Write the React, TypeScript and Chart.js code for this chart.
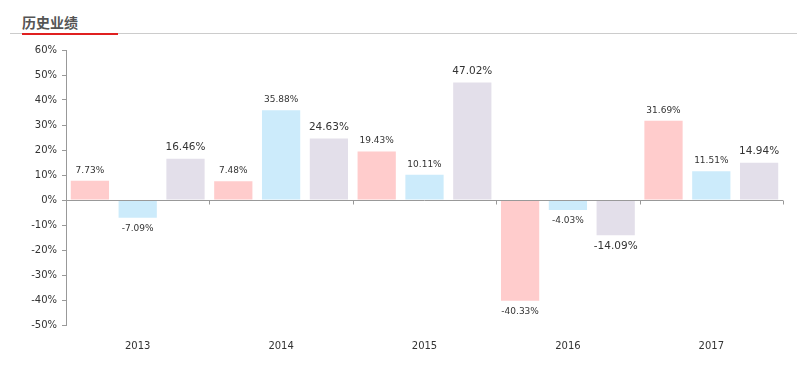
import React, { useEffect, useRef } from "react";
import { Chart, registerables } from "chart.js";

Chart.register(...registerables);

const years = ["2013", "2014", "2015", "2016", "2017"];
const seriesA = [7.73, 7.48, 19.43, -40.33, 31.69];
const seriesB = [-7.09, 35.88, 10.11, -4.03, 11.51];
const seriesC = [16.46, 24.63, 47.02, -14.09, 14.94];
const yTicks = [60, 50, 40, 30, 20, 10, 0, -10, -20, -30, -40, -50];

const zeroLinePlugin = {
  id: "zeroLine",
  afterDatasetsDraw(chart: any) {
    const { ctx, chartArea, scales } = chart;
    const x = scales.x;
    const y = scales.y;
    const y0 = Math.round(y.getPixelForValue(0)) + 0.5;
    ctx.save();
    ctx.strokeStyle = "#999999";
    ctx.lineWidth = 1;
    ctx.beginPath();
    ctx.moveTo(chartArea.left, y0);
    ctx.lineTo(chartArea.right, y0);
    const n = years.length;
    for (let i = 1; i <= n; i++) {
      const px = Math.round(i < n ? x.getPixelForValue(i) - (x.getPixelForValue(1) - x.getPixelForValue(0)) / 2 : chartArea.right) + 0.5;
      ctx.moveTo(px, y0);
      ctx.lineTo(px, y0 + 4);
    }
    ctx.stroke();
    ctx.restore();
  },
};

const labelPlugin = {
  id: "valueLabels",
  afterDatasetsDraw(chart: any) {
    const { ctx } = chart;
    ctx.save();
    ctx.fillStyle = "#333333";
    ctx.textAlign = "center";
    chart.data.datasets.forEach((ds: any, di: number) => {
      const meta = chart.getDatasetMeta(di);
      const size = di === 2 ? 10.5 : 9;
      ctx.font = `${size}px "DejaVu Sans", sans-serif`;
      meta.data.forEach((bar: any, i: number) => {
        const v = ds.data[i];
        const text = v.toFixed(2) + "%";
        if (v >= 0) {
          ctx.textBaseline = "bottom";
          ctx.fillText(text, bar.x, bar.y - 6);
        } else {
          ctx.textBaseline = "top";
          ctx.fillText(text, bar.x, bar.y + 6);
        }
      });
    });
    ctx.restore();
  },
};

export default function App() {
  const ref = useRef<HTMLCanvasElement>(null);
  useEffect(() => {
    if (!ref.current) return;
    const chart = new Chart(ref.current, {
      type: "bar",
      data: {
        labels: years,
        datasets: [
          { label: "A", data: seriesA, backgroundColor: "#FFCCCC" },
          { label: "B", data: seriesB, backgroundColor: "#CCEBFB" },
          { label: "C", data: seriesC, backgroundColor: "#E3DFEA" },
        ],
      },
      options: {
        animation: false,
        responsive: false,
        maintainAspectRatio: false,
        layout: { padding: { left: 0, right: 23, top: 50, bottom: 0 } },
        datasets: { bar: { barPercentage: 0.8, categoryPercentage: 1.0 } },
        plugins: { legend: { display: false }, tooltip: { enabled: false } },
        scales: {
          x: {
            grid: { display: false },
            border: { display: false },
            ticks: { color: "#333333", font: { size: 10, family: "DejaVu Sans" }, padding: 7 },
            afterFit: (s: any) => { s.height = 41; },
          },
          y: {
            min: -50,
            max: 60,
            afterBuildTicks: (s: any) => { s.ticks = yTicks.map((v) => ({ value: v })); },
            grid: { display: true, drawOnChartArea: false, drawTicks: true, tickLength: 4, color: "#999999" },
            border: { display: true, color: "#999999" },
            ticks: {
              color: "#333333",
              font: { size: 10, family: "DejaVu Sans" },
              padding: 5,
              callback: (v: any) => v + "%",
            },
            afterFit: (s: any) => { s.width = 66; },
          },
        },
      },
      plugins: [zeroLinePlugin, labelPlugin],
    });
    return () => chart.destroy();
  }, []);
  return (
    <div style={{ position: "fixed", left: 0, top: 0, width: 806, height: 366, background: "#fff" }}>
      <div style={{ position: "absolute", left: 10, top: 33, width: 787, height: 1, background: "#cccccc" }} />
      <div style={{ position: "absolute", left: 22, top: 33, width: 96, height: 2, background: "#e02020" }} />
      <div
        style={{
          position: "absolute",
          left: 22,
          top: 13,
          fontFamily: '"Noto Sans CJK SC", sans-serif',
          fontSize: 14,
          fontWeight: 700,
          color: "#555555",
          lineHeight: "18px",
        }}
      >
        历史业绩
      </div>
      <canvas ref={ref} width={806} height={366} style={{ position: "absolute", left: 0, top: 0 }} />
    </div>
  );
}
